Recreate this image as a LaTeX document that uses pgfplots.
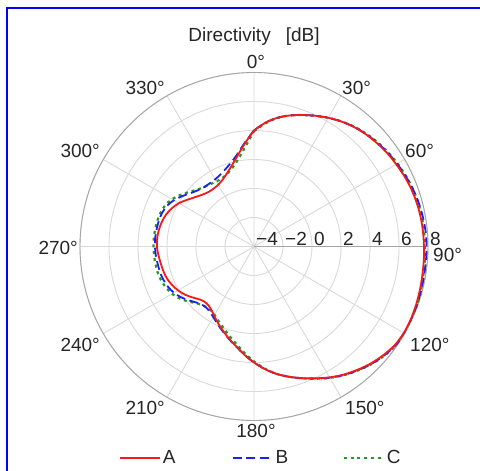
\documentclass[border=0pt]{standalone}
\usepackage{fontspec}
\setmainfont{Liberation Sans}
\usepackage{pgfplots}
\pgfplotsset{compat=1.18}
\usepgfplotslibrary{polar}
\usepackage{pgfplotstable}

\definecolor{cA}{RGB}{245,25,25}
\definecolor{cB}{RGB}{25,35,235}
\definecolor{cC}{RGB}{40,150,40}
\definecolor{gridc}{RGB}{218,218,218}
\definecolor{ringc}{RGB}{165,165,165}
\definecolor{txt}{RGB}{38,38,38}

% t = angle clockwise from north (deg), r in dB
\pgfplotstableread{
t rA rB rC
0 4.00 4.00 3.95
5 4.55 4.55 4.50
10 5.00 5.00 4.98
15 5.35 5.35 5.35
20 5.65 5.65 5.65
25 5.95 5.95 5.95
30 6.25 6.25 6.25
35 6.52 6.52 6.53
40 6.75 6.76 6.78
45 6.93 6.95 6.98
50 7.08 7.12 7.15
55 7.22 7.27 7.30
60 7.33 7.40 7.43
65 7.45 7.53 7.55
70 7.55 7.65 7.65
75 7.62 7.75 7.72
80 7.67 7.82 7.76
85 7.70 7.88 7.78
90 7.72 7.90 7.80
95 7.75 7.90 7.82
100 7.78 7.90 7.85
105 7.83 7.92 7.90
110 7.88 7.95 7.95
115 7.92 7.98 7.98
120 7.93 7.98 7.98
125 7.85 7.90 7.92
130 7.65 7.70 7.72
135 7.40 7.45 7.47
140 7.10 7.14 7.16
145 6.78 6.82 6.83
150 6.42 6.45 6.46
155 6.03 6.05 6.06
160 5.66 5.67 5.68
165 5.30 5.30 5.30
170 4.92 4.92 4.92
175 4.48 4.48 4.45
180 4.00 4.00 3.93
185 3.50 3.50 3.38
190 3.00 3.02 2.85
195 2.60 2.62 2.43
200 2.20 2.25 2.03
205 1.85 1.92 1.72
210 1.50 1.62 1.45
215 1.22 1.40 1.30
220 1.10 1.35 1.35
225 1.20 1.50 1.55
230 1.48 1.80 1.90
235 1.80 2.12 2.25
240 2.05 2.38 2.52
245 2.25 2.55 2.70
250 2.40 2.66 2.82
255 2.48 2.72 2.88
260 2.54 2.75 2.90
265 2.62 2.80 2.92
270 2.70 2.83 2.93
275 2.70 2.84 2.93
280 2.66 2.82 2.92
285 2.58 2.80 2.90
290 2.45 2.75 2.85
295 2.25 2.62 2.75
300 1.98 2.38 2.52
305 1.62 2.05 2.20
310 1.30 1.72 1.85
315 1.05 1.48 1.55
320 0.90 1.35 1.35
325 0.87 1.32 1.25
330 0.92 1.35 1.18
335 1.10 1.48 1.20
340 1.40 1.70 1.35
345 1.82 2.02 1.65
350 2.40 2.50 2.15
355 3.15 3.20 2.90
360 4.00 4.00 3.95
}\dirdata

\begin{document}
\begin{tikzpicture}[x=1pt,y=1pt]
\useasboundingbox (0,0) rectangle (480,-471);
\fill[white] (0,0) rectangle (480,-471);
\draw[blue, line width=2pt] (5.5,-7.5) -- (480,-7.5);
\draw[blue, line width=2pt] (6.5,-6.5) -- (6.5,-471);
\node[txt, font=\fontsize{19}{22}\selectfont] at (254,-37) {Directivity\hspace{15pt}[dB]};
\begin{polaraxis}[
  at={(254pt,-246.5pt)}, anchor=center,
  width=348pt, height=348pt, scale only axis,
  xmin=0, xmax=360, ymin=0, ymax=12,
  xtick={0,30,...,330},
  xticklabel={\relax},
  ytick={0,2,...,12},
  yticklabels={−4,−2,0,2,4,6,8},
  yticklabel style={anchor=south west, inner sep=1pt, xshift=1pt, yshift=0pt},
  grid=major,
  major grid style={gridc, line width=0.9pt},
  axis line style={ringc, line width=0.9pt},
  major tick length=0pt,
  tick style={draw=none},
  ticklabel style={txt, font=\fontsize{19}{22}\selectfont},
  legend columns=3,
  legend style={at={(0.5187,-0.1078)}, anchor=center, draw=none, fill=none,
    font=\fontsize{19}{22}\selectfont, text=txt,
    nodes={inner sep=2pt},
    /tikz/column sep=0pt},
  legend cell align=left,
  legend image code/.code={\draw[#1] (0pt,0pt) -- (40pt,0pt);},
]
\addlegendimage{cA, line width=1.8pt}
\addlegendentry{\makebox[67pt][l]{A}}
\addlegendimage{cB, line width=1.8pt, dash pattern=on 9pt off 4.5pt}
\addlegendentry{\makebox[65pt][l]{B}}
\addlegendimage{cC, line width=2.2pt, dash pattern=on 3pt off 3.8pt}
\addlegendentry{\makebox[13pt][l]{C}}
\addplot[cC, line width=2.2pt, dash pattern=on 3pt off 3.8pt, forget plot, smooth]
  table[x expr=90-\thisrow{t}, y expr=\thisrow{rC}+4] {\dirdata};
\addplot[cB, line width=1.8pt, dash pattern=on 9pt off 4.5pt, forget plot, smooth]
  table[x expr=90-\thisrow{t}, y expr=\thisrow{rB}+4] {\dirdata};
\addplot[cA, line width=1.8pt, forget plot, smooth]
  table[x expr=90-\thisrow{t}, y expr=\thisrow{rA}+4] {\dirdata};
\end{polaraxis}
\begin{scope}[every node/.style={txt, font=\fontsize{19}{22}\selectfont, inner sep=0pt}]
\node[anchor=center] at (256,-62) {0°};
\node[anchor=west] at (342,-87.5) {30°};
\node[anchor=west] at (405,-150.5) {60°};
\node[anchor=west] at (433,-255) {90°};
\node[anchor=west] at (410,-345) {120°};
\node[anchor=west] at (345,-407.5) {150°};
\node[anchor=center] at (256,-430.5) {180°};
\node[anchor=east] at (165,-407.5) {210°};
\node[anchor=east] at (100,-345) {240°};
\node[anchor=east] at (78,-248) {270°};
\node[anchor=east] at (100,-150.5) {300°};
\node[anchor=east] at (165,-87.5) {330°};
\end{scope}
\end{tikzpicture}
\end{document}
